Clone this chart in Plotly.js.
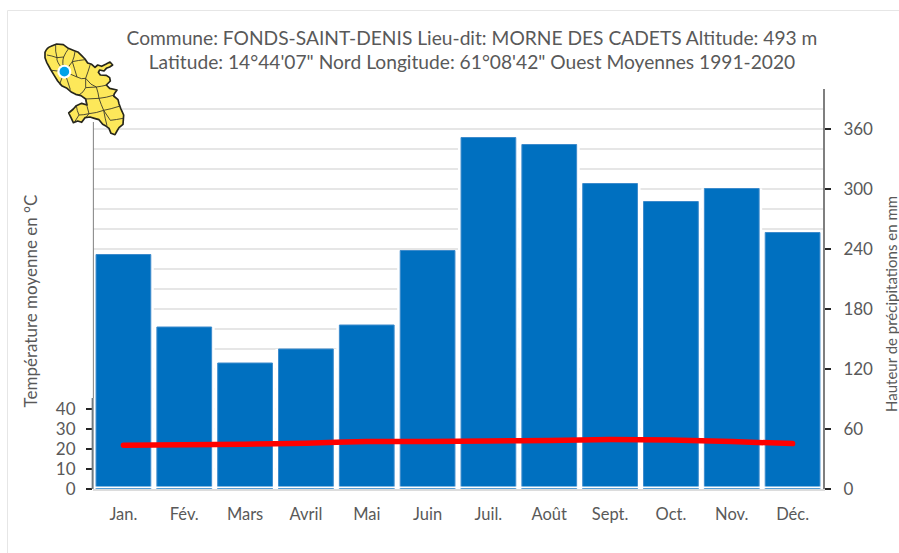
<!DOCTYPE html>
<html>
<head>
<meta charset="utf-8">
<script src="https://cdn.plot.ly/plotly-3.0.1.min.js"></script>
<style>html,body{margin:0;padding:0;background:#fff;overflow:hidden}</style>
</head>
<body>
<div id="chart" style="width:899px;height:553px"></div>
<script>
const months = ["Jan.","Fév.","Mars","Avril","Mai","Juin","Juil.","Août","Sept.","Oct.","Nov.","Déc."];
const rainfall = [234.5,162,126,140,164,238.5,351.5,344.5,305.5,287.5,300.5,256.5];
const temperature = [21.9,22.1,22.4,22.9,23.7,23.8,24.0,24.3,24.7,24.5,23.7,22.7];
const rainTicks = [0,60,120,180,240,300,360];
const tempTicks = [0,10,20,30,40];
const titleText = "Commune: FONDS-SAINT-DENIS Lieu-dit: MORNE DES CADETS Altitude: 493 m<br>Latitude: 14°44'07\" Nord Longitude: 61°08'42\" Ouest Moyennes 1991-2020";

const FONT = "Lato, Carlito, Calibri, sans-serif";
const GREY = "#595959";

const mapSvg = `<svg xmlns="http://www.w3.org/2000/svg" viewBox="0 0 300 315" width="300" height="315">
<path d="M30 52 Q36 38 48 34 L65 27 L85 29 L100 40 L118 47 L130 52 L140 62 L150 72 L158 84 L170 88 L180 97 L188 90 L200 94 L212 88 L225 81 L233 90 L224 96 L214 100 L207 108 L194 105 L190 112 L196 120 L214 121 L224 128 L226 138 L214 150 L224 160 L246 165 L238 176 L236 183 L249 194 L252 206 L257 220 L266 240 L264 268 L252 278 L246 288 L240 299 L228 295 L222 280 L214 274 L203 268 L192 254 L178 250 L165 246 L150 248 L140 262 L128 258 L115 263 L108 248 L101 234 L115 222 L124 212 L140 205 L156 210 L152 192 L138 182 L122 178 L110 172 L96 160 L80 152 L68 138 L58 122 L46 102 L35 82 L30 68 Z" fill="#fde85a" stroke="#26261c" stroke-width="5" stroke-linejoin="round"/>
<g fill="none" stroke="#33332a" stroke-width="2.6" stroke-linejoin="round">
<path d="M88 110 Q62 78 66 68 Q60 48 62 30 M88 110 Q80 82 86 66 Q92 52 100 42 M88 110 Q104 92 112 80 Q118 66 120 50 M66 68 Q50 62 36 60 M86 66 L66 68 M112 80 Q130 76 150 74"/>
<path d="M88 110 Q66 108 50 106 M88 110 Q80 130 74 148 M88 110 Q98 138 106 164 M88 110 Q108 118 126 126 Q140 134 152 130 Q160 108 166 88"/>
<path d="M126 126 Q118 100 112 80 M152 130 Q168 152 184 156 Q200 154 216 150 M132 180 Q146 172 152 158 L152 130 M152 158 L184 156 Q190 174 192 190 L152 192"/>
<path d="M192 190 Q214 188 238 180 M192 190 Q198 208 206 226 Q228 222 252 214 M152 192 Q156 216 162 236 Q184 234 206 226 Q210 250 216 272 M162 236 L152 248"/>
<path d="M124 212 Q126 228 132 240 Q146 240 162 236 M226 256 Q244 254 264 250 M226 256 L206 226 M132 240 L118 262"/>
</g>
<circle cx="88" cy="110" r="21" fill="#ffffff"/>
<circle cx="88" cy="110" r="14.5" fill="#00a2e8"/>
</svg>`;

const halo = {
  type: "bar", name: "fond", x: months, y: rainfall, width: 1,
  marker: {color: "#ffffff", line: {width: 0}}, hoverinfo: "skip", showlegend: false, yaxis: "y"
};
const bars = {
  type: "bar", name: "Hauteur de précipitations", x: months, y: rainfall, width: 0.9,
  marker: {color: "#0070c0", line: {color: "#3d8bcc", width: 1}}, showlegend: false, yaxis: "y"
};
const line = {
  type: "scatter", mode: "lines", name: "Température moyenne", x: months, y: temperature,
  line: {color: "#ff0000", width: 5.5, shape: "spline", smoothing: 0.8}, showlegend: false, yaxis: "y2"
};

const layout = {
  width: 899, height: 553, autosize: false,
  margin: {l: 93, r: 76, t: 89, b: 64, pad: 0},
  paper_bgcolor: "#ffffff", plot_bgcolor: "#ffffff",
  font: {family: FONT, color: GREY, size: 15},
  barmode: "overlay",
  title: {text: titleText, font: {family: FONT, size: 19.2, color: GREY}, x: 0.525, xanchor: "center", y: 0.9195, yanchor: "top", pad: {t: 0}},
  xaxis: {
    type: "category", range: [-0.5, 11.5], showline: true, linecolor: "#dcdcdc", linewidth: 1.5,
    ticks: "", showgrid: false, tickfont: {size: 16.5, color: GREY}, ticklabelstandoff: 10, fixedrange: true
  },
  yaxis: {
    side: "right", range: [0, 400], tickmode: "array", tickvals: rainTicks,
    showline: true, linecolor: "#7f7f7f", linewidth: 2, ticks: "outside", ticklen: 6, tickwidth: 1.5, tickcolor: "#262626",
    showgrid: true, gridcolor: "#e6e6e6", gridwidth: 1.5, zeroline: false,
    minor: {tickmode: "linear", dtick: 20, showgrid: true, gridcolor: "#e6e6e6", gridwidth: 1.5, ticks: ""},
    tickfont: {size: 17, color: GREY}, ticklabelstandoff: 9, fixedrange: true
  },
  yaxis2: {
    overlaying: "y", side: "left", range: [0, 200], tickmode: "array", tickvals: tempTicks,
    showline: false, showgrid: false, zeroline: false, ticks: "outside", ticklen: 6, tickwidth: 1.5, tickcolor: "#262626",
    tickfont: {size: 17, color: GREY}, ticklabelstandoff: 7, fixedrange: true
  },
  shapes: [
    {type: "rect", layer: "above", xref: "paper", yref: "y", x0: 0.002, x1: 0.997, y0: 0.8, y1: 2.6, fillcolor: "#ffffff", line: {width: 0}},
    {type: "line", layer: "above", xref: "paper", yref: "y2", x0: -0.0005, x1: -0.0005, y0: 0, y1: 45.5, line: {color: "#6f7a80", width: 2}},
    {type: "line", layer: "above", xref: "paper", yref: "y2", x0: 0.0005, x1: 0.0005, y0: 45.5, y1: 183.5, line: {color: "#808080", width: 1}},
    {type: "line", xref: "paper", yref: "paper", x0: (7.5-93)/730, x1: (899-93)/730, y0: (489-10.5)/400, y1: (489-10.5)/400, line: {color: "#e6e6e6", width: 1}},
    {type: "line", xref: "paper", yref: "paper", x0: (7.5-93)/730, x1: (7.5-93)/730, y0: (489-10.5)/400, y1: (489-553)/400, line: {color: "#e6e6e6", width: 1}}
  ],
  annotations: [
    {text: "Température moyenne en °C", xref: "paper", yref: "paper", x: (30-93)/730, y: (489-301.5)/400, xanchor: "center", yanchor: "middle", textangle: -90, showarrow: false, font: {size: 17, color: GREY, family: FONT}},
    {text: "Hauteur de précipitations en mm", xref: "paper", yref: "paper", x: (891-93)/730, y: (489-304)/400, xanchor: "center", yanchor: "middle", textangle: -90, showarrow: false, font: {size: 15, color: GREY, family: FONT}}
  ],
  images: [{
    source: "data:image/svg+xml;charset=utf-8," + encodeURIComponent(mapSvg),
    xref: "paper", yref: "paper", x: (35-93)/730, y: (489-35)/400, sizex: 100/730, sizey: 105/400,
    xanchor: "left", yanchor: "top", sizing: "stretch", layer: "above"
  }]
};

Plotly.newPlot("chart", [halo, bars, line], layout, {displayModeBar: false, staticPlot: true}).then(() => {
  document.querySelectorAll(".scatterlayer .js-line").forEach(p => p.style.strokeLinecap = "round");
});
</script>
</body>
</html>
